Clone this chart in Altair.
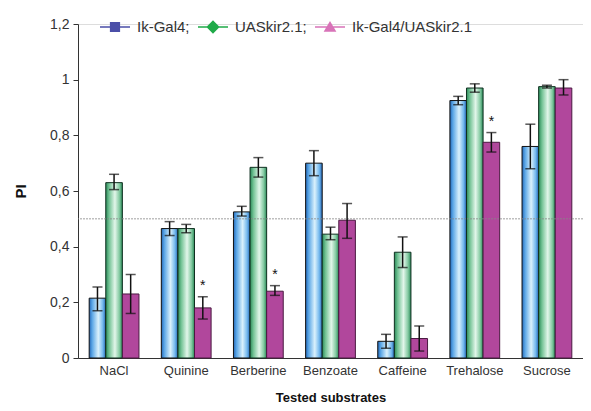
import altair as alt
import pandas as pd

categories = ["NaCl", "Quinine", "Berberine", "Benzoate", "Caffeine", "Trehalose", "Sucrose"]
series = ["Ik-Gal4", "UASkir2.1", "Ik-Gal4/UASkir2.1"]

gal4_val = [0.215, 0.465, 0.525, 0.70, 0.06, 0.925, 0.76]
gal4_lo = [0.17, 0.44, 0.51, 0.655, 0.035, 0.91, 0.68]
gal4_hi = [0.255, 0.49, 0.545, 0.745, 0.085, 0.94, 0.84]

kir_val = [0.63, 0.465, 0.685, 0.445, 0.38, 0.97, 0.975]
kir_lo = [0.605, 0.45, 0.65, 0.425, 0.325, 0.955, 0.97]
kir_hi = [0.66, 0.48, 0.72, 0.47, 0.435, 0.985, 0.98]

cross_val = [0.23, 0.18, 0.24, 0.495, 0.07, 0.775, 0.97]
cross_lo = [0.16, 0.14, 0.225, 0.43, 0.025, 0.74, 0.945]
cross_hi = [0.30, 0.22, 0.26, 0.555, 0.115, 0.81, 1.0]

significant = [False, True, True, False, False, True, False]  # for the cross line
y_ticks = [0, 0.2, 0.4, 0.6, 0.8, 1.0, 1.2]
reference_level = 0.5

rows = []
for s, vals, los, his in [
    (series[0], gal4_val, gal4_lo, gal4_hi),
    (series[1], kir_val, kir_lo, kir_hi),
    (series[2], cross_val, cross_lo, cross_hi),
]:
    for i, c in enumerate(categories):
        rows.append({
            "cat": c, "series": s, "value": vals[i], "lo": los[i], "hi": his[i],
            "star": "*" if (s == series[2] and significant[i]) else "",
        })
df = pd.DataFrame(rows)

FONT = "Liberation Sans"

x_enc = alt.X("cat:N", sort=categories,
              scale=alt.Scale(paddingInner=0.31, paddingOuter=0.155),
              axis=alt.Axis(title="Tested substrates", ticks=False, labelAngle=0,
                            labelFontSize=13, labelColor="#333", labelPadding=6,
                            titleFontSize=13, titleFontWeight="bold", titlePadding=14,
                            titleColor="#111", domainColor="#333", domainWidth=1.2,
                            labelFont=FONT, titleFont=FONT))
xo_enc = alt.XOffset("series:N", scale=alt.Scale(domain=series, paddingInner=0, paddingOuter=0))
y_enc = alt.Y("value:Q", scale=alt.Scale(domain=[0, 1.2], nice=False),
              axis=alt.Axis(title="PI", values=y_ticks, grid=False,
                            labelExpr="replace(format(datum.value, '~g'), '.', ',')",
                            labelFontSize=14, labelColor="#333", labelFont=FONT,
                            tickSize=5, tickColor="#333", domainColor="#333",
                            titleFontSize=15, titleFontWeight="bold", titleFont=FONT,
                            titleColor="#111", titlePadding=21, labelPadding=4))

base = alt.Chart(df)

blue_grad = alt.Gradient(gradient="linear", x1=0, x2=1, y1=0, y2=0, stops=[
    alt.GradientStop(offset=0, color="#2468b8"),
    alt.GradientStop(offset=0.18, color="#5aa6e6"),
    alt.GradientStop(offset=0.55, color="#daf1fc"),
    alt.GradientStop(offset=0.82, color="#74b9ee"),
    alt.GradientStop(offset=1, color="#2466b6"),
])
green_grad = alt.Gradient(gradient="linear", x1=0, x2=1, y1=0, y2=0, stops=[
    alt.GradientStop(offset=0, color="#2a8a58"),
    alt.GradientStop(offset=0.2, color="#72c294"),
    alt.GradientStop(offset=0.55, color="#e2f6ea"),
    alt.GradientStop(offset=0.82, color="#84caa2"),
    alt.GradientStop(offset=1, color="#2a8a58"),
])

bars = []
for s, fill, stroke in [(series[0], blue_grad, "#111"),
                        (series[1], green_grad, "#0f3020"),
                        (series[2], "#b1479c", "#4a1a40")]:
    bars.append(
        base.transform_filter(alt.datum.series == s)
        .mark_bar(fill=fill, stroke=stroke, strokeWidth=1)
        .encode(x=x_enc, xOffset=xo_enc, y=y_enc)
    )

err_rule = base.mark_rule(color="#111", strokeWidth=1.5).encode(
    x=x_enc, xOffset=xo_enc, y="lo:Q", y2="hi:Q")
cap_lo = base.mark_tick(color="#111", size=10, thickness=1.5).encode(
    x=x_enc, xOffset=xo_enc, y="lo:Q")
cap_hi = base.mark_tick(color="#111", size=10, thickness=1.5).encode(
    x=x_enc, xOffset=xo_enc, y="hi:Q")
stars = base.transform_filter(alt.datum.star != "").mark_text(
    fontSize=14, dy=-4, baseline="bottom", font=FONT, color="#111").encode(
    x=x_enc, xOffset=xo_enc, y="hi:Q", text="star:N")

ref = alt.Chart(pd.DataFrame({"y": [reference_level]})).mark_rule(
    color="#888", strokeWidth=0.8, strokeDash=[2, 1]).encode(y="y:Q")

p = 0.05
m = 0.34
paths = [
    f"M-1,-{p}H1V{p}H-1Z M-{m},-{m}H{m}V{m}H-{m}Z",
    f"M-1,-{p}H1V{p}H-1Z M0,-{m*1.3}L{m*1.3},0L0,{m*1.3}L-{m*1.3},0Z",
    f"M-1,-{p}H1V{p}H-1Z M0,-{m*1.2}L{m*1.25},{m*0.95}L-{m*1.25},{m*0.95}Z",
]
legend_layer = base.transform_filter("false").mark_point(filled=True, opacity=1).encode(
    x=x_enc, xOffset=xo_enc, y=y_enc,
    color=alt.Color("series:N", scale=alt.Scale(domain=series, range=["#4b4fa8", "#1faa48", "#d873b8"]),
                    legend=alt.Legend(title=None, orient="none", legendX=22, legendY=-12,
                                      direction="horizontal", symbolSize=900, symbolOpacity=1,
                                      symbolStrokeWidth=0, labelFontSize=15, labelFont=FONT,
                                      labelColor="#333", columnPadding=8, labelOffset=7,
                                      labelExpr="datum.label == 'Ik-Gal4/UASkir2.1' ? datum.label : datum.label + ';'")),
    shape=alt.Shape("series:N", scale=alt.Scale(domain=series, range=paths)),
)

chart = alt.layer(*bars, ref, err_rule, cap_lo, cap_hi, stars, legend_layer).properties(
    width=505, height=334,
    autosize=alt.AutoSizeParams(type="none"),
    padding={"left": 70, "top": 16, "right": 0, "bottom": 50},
).configure_view(stroke=None).configure(background="white")

chart.save("out.html", embed_options={"renderer": "svg", "actions": False})
